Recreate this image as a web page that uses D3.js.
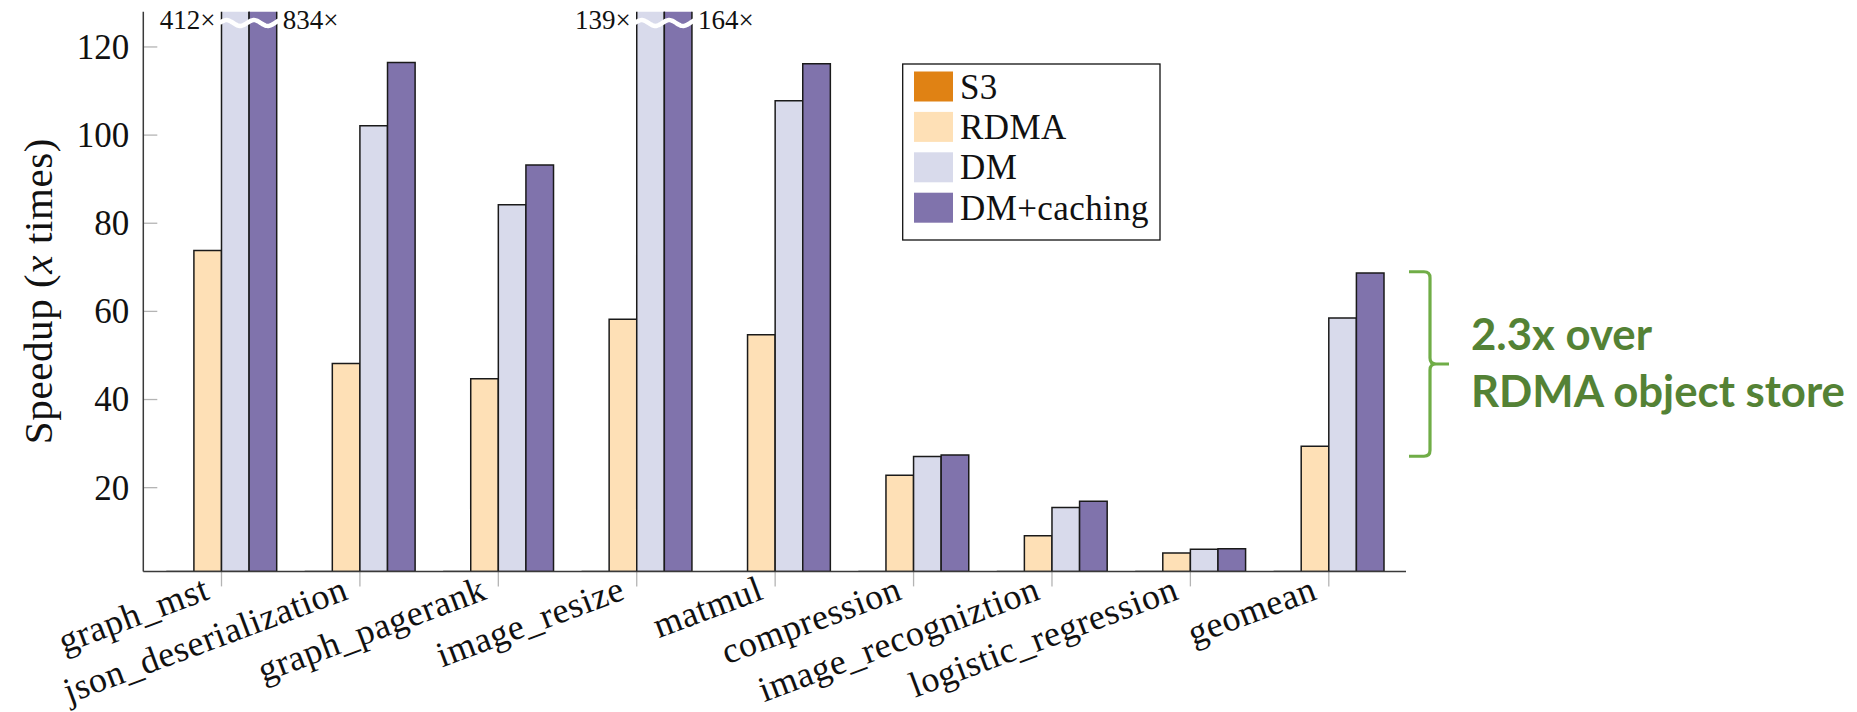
<!DOCTYPE html>
<html>
<head>
<meta charset="utf-8">
<script src="https://cdn.jsdelivr.net/npm/d3@7"></script>
<style>
  html, body { margin: 0; padding: 0; background: #fff; }
  svg { display: block; }
  .serif { font-family: "Liberation Serif", "DejaVu Serif", serif; fill: #111; }
</style>
</head>
<body>
<svg id="chart" width="1857" height="712"></svg>
<script>
// Speedup per workload, relative to S3
const categories = ["graph_mst", "json_deserialization", "graph_pagerank", "image_resize",
  "matmul", "compression", "image_recogniztion", "logistic_regression", "geomean"];
const seriesNames = ["S3", "RDMA", "DM", "DM+caching"];
const s3Values        = [1, 1, 1, 1, 1, 1, 1, 1, 1];
const rdmaValues      = [73.8, 48.2, 44.7, 58.2, 54.7, 22.8, 9.1, 5.2, 29.4];
const dmValues        = [412, 102.1, 84.2, 139, 107.8, 27.1, 15.5, 6.0, 58.5];
const dmCachingValues = [834, 116.5, 93.2, 164, 116.2, 27.4, 16.9, 6.15, 68.7];
const yTickValues = [20, 40, 60, 80, 100, 120];
const seriesColors = ["#e08214", "#fee0b6", "#d8daeb", "#8073ac"];
const annotationLines = ["2.3x over", "RDMA object store"];

const seriesValues = [s3Values, rdmaValues, dmValues, dmCachingValues];
const yMin = 1, yMax = 128;

const svg = d3.select("#chart");
const axisLeft = 143.3, axisRight = 1406;

const x = d3.scalePoint().domain(categories).range([221.5, 1328.8]);
const barW = 27.6;
const xSub = d3.scaleBand().domain(seriesNames).range([-2 * barW, 2 * barW]);
const y = d3.scaleLinear().domain([yMin, yMax]).range([571.4, 11.7]);

// clip bars to the plot area so the very tall ones stop at the top
svg.append("clipPath").attr("id", "plotClip")
  .append("rect")
  .attr("x", axisLeft).attr("y", y(yMax))
  .attr("width", axisRight - axisLeft).attr("height", y(yMin) - y(yMax));

// y ticks (inside) and labels
const yAxisG = svg.append("g");
yAxisG.selectAll("line.yt").data(yTickValues).join("line")
  .attr("x1", axisLeft).attr("x2", axisLeft + 14)
  .attr("y1", d => y(d)).attr("y2", d => y(d))
  .attr("stroke", "#b4b4b4").attr("stroke-width", 1.3);
yAxisG.selectAll("text").data(yTickValues).join("text")
  .attr("class", "serif")
  .attr("x", axisLeft - 14).attr("y", d => y(d)).attr("dy", "0.34em")
  .attr("text-anchor", "end").attr("font-size", 35)
  .text(d => d);

// x ticks (below the axis)
svg.append("g").selectAll("line").data(categories).join("line")
  .attr("x1", d => x(d)).attr("x2", d => x(d))
  .attr("y1", y(yMin)).attr("y2", y(yMin) + 15)
  .attr("stroke", "#b4b4b4").attr("stroke-width", 1.3);

// bars
const barsG = svg.append("g").attr("clip-path", "url(#plotClip)");
categories.forEach((cat, ci) => {
  seriesNames.forEach((s, si) => {
    const v = seriesValues[si][ci];
    const x0 = x(cat) + xSub(s);
    const top = y(v), base = y(yMin);
    barsG.append("path")
      .attr("d", `M${x0},${base}V${top}H${x0 + barW}V${base}Z`)
      .attr("fill", seriesColors[si])
      .attr("stroke", "#1a1a1a").attr("stroke-width", 1.5)
      .attr("stroke-linejoin", "miter");
  });
});

// break marks and value labels for bars that exceed the axis
const breakY = 23;
categories.forEach((cat, ci) => {
  const over = [2, 3].filter(si => seriesValues[si][ci] > yMax);
  if (!over.length) return;
  const xa = x(cat) + xSub(seriesNames[2]) - 2;
  const xb = x(cat) + xSub(seriesNames[3]) + barW + 2;
  const pts = d3.range(0, 41).map(k => {
    const t = k / 40;
    const px = xa + t * (xb - xa);
    return [px, breakY + 3 * Math.sin(((px - xa) / barW) * 2 * Math.PI + Math.PI)];
  });
  svg.append("path")
    .attr("d", d3.line().curve(d3.curveBasis)(pts))
    .attr("fill", "none").attr("stroke", "#fff").attr("stroke-width", 4.5);
  svg.append("text").attr("class", "serif")
    .attr("x", x(cat) + xSub(seriesNames[2]) - 6).attr("y", breakY + 5.5)
    .attr("text-anchor", "end").attr("font-size", 27)
    .text(dmValues[ci] + "\u00d7");
  svg.append("text").attr("class", "serif")
    .attr("x", x(cat) + xSub(seriesNames[3]) + barW + 6).attr("y", breakY + 5.5)
    .attr("text-anchor", "start").attr("font-size", 27)
    .text(dmCachingValues[ci] + "\u00d7");
});

// axis lines (left and bottom)
svg.append("line")
  .attr("x1", axisLeft).attr("x2", axisLeft)
  .attr("y1", y(yMax)).attr("y2", y(yMin))
  .attr("stroke", "#3a3a3a").attr("stroke-width", 1.5);
svg.append("line")
  .attr("x1", axisLeft).attr("x2", axisRight)
  .attr("y1", y(yMin)).attr("y2", y(yMin))
  .attr("stroke", "#3a3a3a").attr("stroke-width", 1.5);

// rotated category labels
svg.append("g").selectAll("text").data(categories).join("text")
  .attr("class", "serif")
  .attr("font-size", 36)
  .attr("letter-spacing", 0.6)
  .attr("text-anchor", "end")
  .attr("transform", d => `translate(${x(d) - 10},${y(yMin) + 27}) rotate(-20.5)`)
  .text(d => d);

// y axis title
const yTitle = svg.append("text").attr("class", "serif")
  .attr("font-size", 41).attr("letter-spacing", 0.6).attr("text-anchor", "middle")
  .attr("transform", `translate(52,291) rotate(-90)`);
yTitle.append("tspan").text("Speedup (");
yTitle.append("tspan").attr("font-style", "italic").text("x");
yTitle.append("tspan").text(" times)");

// legend
const legend = svg.append("g");
legend.append("rect")
  .attr("x", 902.7).attr("y", 64).attr("width", 257.3).attr("height", 176)
  .attr("fill", "#fff").attr("stroke", "#111").attr("stroke-width", 1.3);
seriesNames.forEach((s, i) => {
  legend.append("rect")
    .attr("x", 914).attr("y", 71.5 + i * 40.4).attr("width", 39).attr("height", 30)
    .attr("fill", seriesColors[i]);
  legend.append("text").attr("class", "serif")
    .attr("x", 960).attr("y", 98.6 + i * 40.4).attr("font-size", 35)
    .attr("letter-spacing", 0.4)
    .text(s);
});

// bracket spanning the geomean bars, with the summary text
const gi = categories.length - 1;
const bTop = y(dmCachingValues[gi]) - 1.3;
const bBot = y(rdmaValues[gi]) + 10;
const bMid = (bTop + bBot) / 2;
const bx0 = 1409, bx1 = 1430, bx2 = 1449;
svg.append("path")
  .attr("d", `M${bx0},${bTop}H${bx1 - 6}Q${bx1},${bTop} ${bx1},${bTop + 6}V${bMid - 6}` +
             `Q${bx1},${bMid} ${bx1 + 6},${bMid}H${bx2}M${bx1 + 6},${bMid}` +
             `Q${bx1},${bMid} ${bx1},${bMid + 6}V${bBot - 6}Q${bx1},${bBot} ${bx1 - 6},${bBot}H${bx0}`)
  .attr("fill", "none").attr("stroke", "#70ad47").attr("stroke-width", 3.2);

const note = svg.append("g").attr("font-family", "Lato, 'Open Sans', sans-serif")
  .attr("font-weight", 700).attr("fill", "#548235");
const l1 = note.append("text").attr("x", 1471).attr("y", bMid - 14).attr("font-size", 42).text(annotationLines[0]);
const l2 = note.append("text").attr("x", 1471).attr("y", bMid + 43.4).attr("font-size", 42).text(annotationLines[1]);
// fit the second line to its width
const w2 = l2.node().getComputedTextLength();
const fs = 42 * 374 / w2;
l1.attr("font-size", fs);
l2.attr("font-size", fs);
</script>
</body>
</html>
